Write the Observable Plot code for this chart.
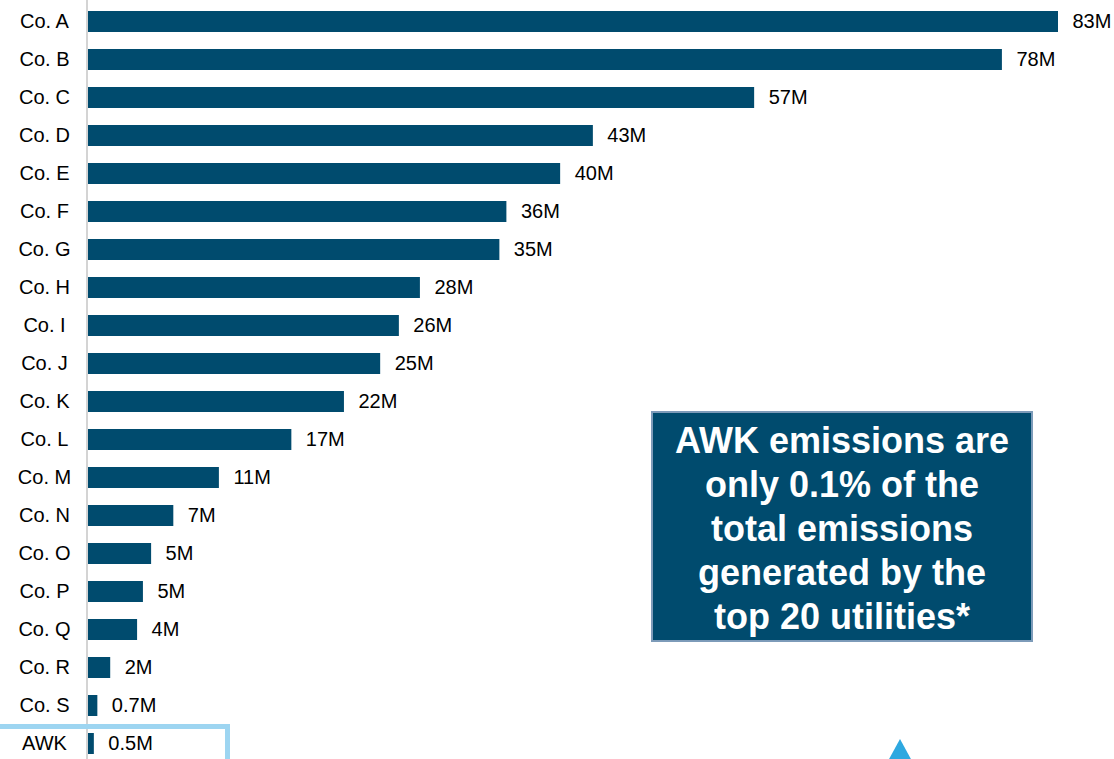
<!DOCTYPE html>
<html>
<head>
<meta charset="utf-8">
<script src="https://cdn.jsdelivr.net/npm/d3@7"></script>
<script src="https://cdn.jsdelivr.net/npm/@observablehq/plot@0.6"></script>
<style>
  html, body { margin: 0; padding: 0; background: #ffffff; overflow: hidden; width: 1114px; height: 759px; }
  #wrap { position: relative; width: 1114px; height: 759px; overflow: hidden; }
  #chart { position: absolute; left: 0; top: 0; }
  #note {
    position: absolute; left: 651px; top: 411px; width: 382px; height: 231px;
    box-sizing: border-box; background: #004b6e; border: 2px solid #7d9bb9;
    color: #ffffff; font-family: "Liberation Sans", Arial, sans-serif; font-weight: bold;
    font-size: 36px; line-height: 44px; text-align: center; padding-top: 6px;
  }
  #awkbox {
    position: absolute; left: -10px; top: 724px; width: 240px; height: 60px;
    box-sizing: border-box; border: 5px solid #9dd5f1;
  }
  #tri {
    position: absolute; left: 888px; top: 739px; width: 0; height: 0;
    border-left: 12px solid transparent; border-right: 12px solid transparent;
    border-bottom: 22px solid #2ea8e0;
  }
</style>
</head>
<body>
<div id="wrap">
  <div id="chart"></div>
  <div id="awkbox"></div>
  <div id="note">AWK emissions are<br>only 0.1% of the<br>total emissions<br>generated by the<br>top 20 utilities*</div>
  <div id="tri"></div>
</div>
<script>
const companies = ["Co. A","Co. B","Co. C","Co. D","Co. E","Co. F","Co. G","Co. H","Co. I","Co. J",
                   "Co. K","Co. L","Co. M","Co. N","Co. O","Co. P","Co. Q","Co. R","Co. S","AWK"];
// bar lengths (millions)
const values = [83, 78.2, 57, 43.2, 40.4, 35.8, 35.2, 28.4, 26.6, 25, 21.9, 17.4, 11.2, 7.3, 5.4, 4.7, 4.2, 1.9, 0.8, 0.5];
const valueLabels = ["83M","78M","57M","43M","40M","36M","35M","28M","26M","25M",
                     "22M","17M","11M","7M","5M","5M","4M","2M","0.7M","0.5M"];

const data = companies.map((c, i) => ({company: c, value: values[i], label: valueLabels[i]}));

const chart = Plot.plot({
  width: 1114,
  height: 764,
  marginLeft: 88,
  marginRight: 56,
  marginTop: 0,
  marginBottom: 0,
  style: {fontFamily: "'Liberation Sans', Arial, sans-serif", color: "#000", background: "transparent"},
  x: {domain: [0, 83], axis: null},
  y: {domain: companies, paddingInner: 0.45, paddingOuter: 0.225, axis: null},
  marks: [
    Plot.ruleX([0], {stroke: "#d4d4d4", strokeWidth: 2, dx: -1.5}),
    Plot.barX(data, {x: "value", y: "company", fill: "#004b6e"}),
    Plot.text(data, {x: "value", y: "company", text: "label", textAnchor: "start", dx: 14, fontSize: 20, fill: "#000"}),
    Plot.axisY({tickSize: 0, tickPadding: 44, textAnchor: "middle", fontSize: 20, fill: "#000", label: null})
  ]
});
document.getElementById("chart").appendChild(chart);
</script>
</body>
</html>
